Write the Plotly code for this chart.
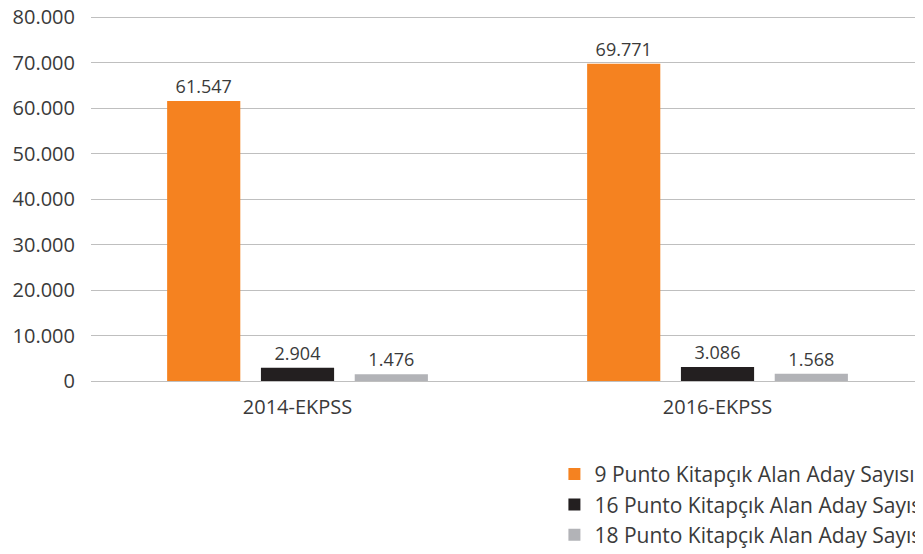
import plotly.graph_objects as go

categories = ["2014-EKPSS", "2016-EKPSS"]
series_names = [
    "9 Punto Kitapçık Alan Aday Sayısı",
    "16 Punto Kitapçık Alan Aday Sayısı",
    "18 Punto Kitapçık Alan Aday Sayısı",
]
values_9 = [61547, 69771]
values_16 = [2904, 3086]
values_18 = [1476, 1568]
colors = ["#F58220", "#231F20", "#B2B3B7"]
y_ticks = [0, 10000, 20000, 30000, 40000, 50000, 60000, 70000, 80000]

FONT = "Open Sans"
TXT = "#3A3A3A"

fig = go.Figure()
for name, vals, col in zip(series_names, [values_9, values_16, values_18], colors):
    fig.add_trace(go.Bar(
        x=categories, y=vals, name=name,
        marker=dict(color=col, line=dict(width=0)),
        texttemplate="%{y:,}", textposition="outside",
        textfont=dict(family=FONT, size=18, color=TXT),
        cliponaxis=False,
    ))

fig.update_layout(
    width=923, height=554,
    margin=dict(l=83, r=0, t=8, b=181, autoexpand=False),
    paper_bgcolor="white", plot_bgcolor="white",
    separators=",.",
    barmode="group", bargap=0.33, bargroupgap=0.22,
    font=dict(family=FONT, size=18, color=TXT),
    showlegend=True,
    legend=dict(
        xref="container", yref="container",
        x=0.592, xanchor="left", y=0.195, yanchor="top",
        font=dict(family=FONT, size=21, color=TXT),
        bgcolor="rgba(0,0,0,0)",
        traceorder="normal",
        tracegroupgap=0,
    ),
    xaxis=dict(
        range=[-0.4917, 1.5083],
        showgrid=False, showline=False, ticks="",
        tickfont=dict(family=FONT, size=20, color=TXT),
        ticklabelstandoff=12,
        automargin=False,
    ),
    yaxis=dict(
        range=[0, 80250],
        tickvals=y_ticks, tickformat=",",
        showgrid=True, gridcolor="#BFBFBF", gridwidth=1,
        zeroline=True, zerolinecolor="#BFBFBF", zerolinewidth=1,
        showline=False, ticks="",
        tickfont=dict(family=FONT, size=20, color=TXT),
        ticklabelstandoff=15,
        ticklabeloverflow="allow",
        automargin=False,
    ),
)

fig.write_html("out.html")
